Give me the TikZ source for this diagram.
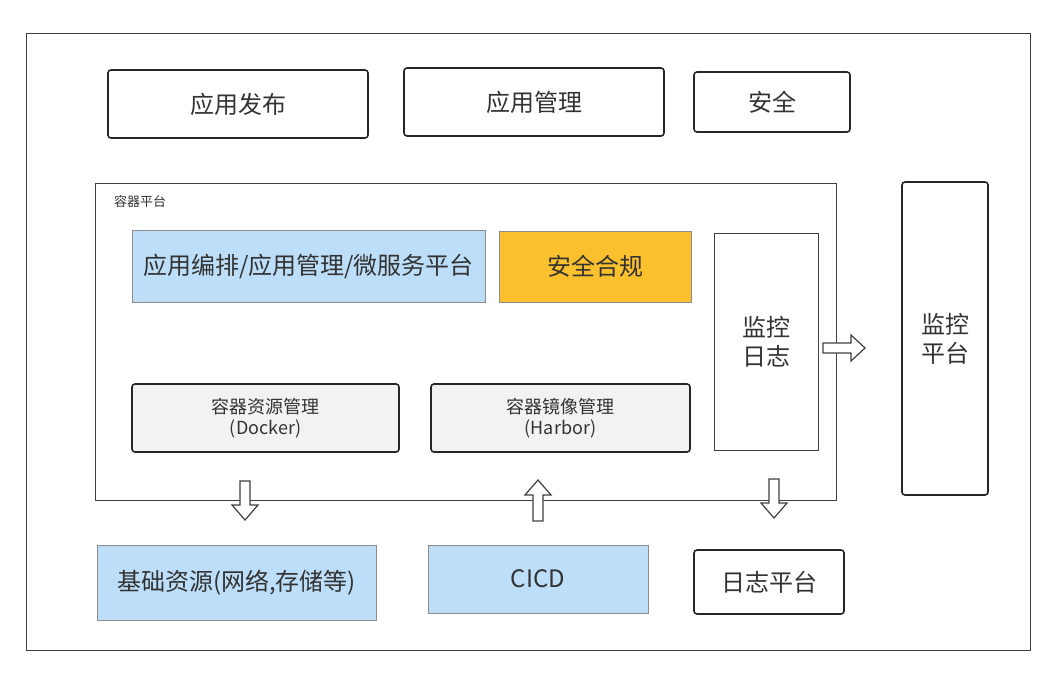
\documentclass[tikz,border=0pt]{standalone}
\usepackage{fontspec}
\setmainfont{Noto Sans CJK SC}
\definecolor{lblue}{RGB}{189,222,248}
\definecolor{amber}{RGB}{251,192,45}
\begin{document}
\begin{tikzpicture}[x=1pt,y=-1pt,
  txt/.style={text=black!80},
  rbox/.style={draw=black!85,line width=1.6pt,rounded corners=3pt,fill=white,txt,font=\fontsize{24}{29}\selectfont},
  bluebox/.style={draw=black!45,line width=0.8pt,fill=lblue,txt,font=\fontsize{24}{28}\selectfont},
  graybox/.style={draw=black!85,line width=1.6pt,rounded corners=3pt,fill=black!5,txt,font=\fontsize{18}{21}\selectfont,align=center},
  barrow/.style={draw=black!75,line width=1.2pt,fill=white,line join=miter}
]
\useasboundingbox (0,0) rectangle (1054,678);
\fill[white] (0,0) rectangle (1054,678);
% outer frame
\draw[black!75,line width=0.8pt] (26,33) rectangle (1030,650);
% top row
\node[rbox,minimum width=260,minimum height=68] (fabu) at (238,104) {应用发布};
\node[rbox,minimum width=260,minimum height=68] (guanli) at (534,102) {应用管理};
\node[rbox,minimum width=156,minimum height=60] (anquan) at (772,102) {安全};
% container platform
\draw[black!75,line width=0.8pt] (95,183) rectangle (836,500);
\node[txt,font=\fontsize{13}{15}\selectfont,anchor=west,inner sep=0pt] (rqpt) at (114,202) {容器平台};
\node[bluebox,minimum width=353,minimum height=72] (bianpai) at (308.5,266) {应用编排/应用管理/微服务平台};
\node[draw=black!45,line width=0.8pt,fill=amber,txt,font=\fontsize{24}{28}\selectfont,minimum width=192,minimum height=71] (hegui) at (595,266.5) {安全合规};
\node[draw=black!75,line width=0.8pt,fill=white,txt,font=\fontsize{24}{29}\selectfont,align=center,minimum width=104,minimum height=217] (jkrz) at (766,341.5) {监控\\日志};
\node[graybox,minimum width=267,minimum height=68] (docker) at (265.5,418) {容器资源管理\\(Docker)};
\node[graybox,minimum width=259,minimum height=68] (harbor) at (560.5,418) {容器镜像管理\\(Harbor)};
% monitor platform
\node[rbox,minimum width=86,minimum height=313,align=center] (jkpt) at (945,338.5) {监控\\平台};
% bottom row
\node[bluebox,minimum width=279,minimum height=75] (jichu) at (236.5,582.5) {基础资源(网络,存储等)};
\node[bluebox,minimum width=220,minimum height=68] (cicd) at (538,579) {CICD};
\node[rbox,minimum width=150,minimum height=64] (rzpt) at (769,582) {日志平台};
% block arrows
\coordinate (ra) at (823,338);
\draw[barrow] ([yshift=-5]ra) -- ++(28,0) -- ++(0,-8) -- ++(14,13) -- ++(-14,13) -- ++(0,-8) -- ++(-28,0) -- cycle;
\coordinate (da1) at (245,481);
\draw[barrow] ([xshift=-5]da1) -- ++(0,24) -- ++(-8,0) -- ++(13,15) -- ++(13,-15) -- ++(-8,0) -- ++(0,-24) -- cycle;
\coordinate (ua) at (538,521);
\draw[barrow] ([xshift=-5]ua) -- ++(0,-26) -- ++(-8,0) -- ++(13,-15) -- ++(13,15) -- ++(-8,0) -- ++(0,26) -- cycle;
\coordinate (da2) at (774,479);
\draw[barrow] ([xshift=-5]da2) -- ++(0,24) -- ++(-8,0) -- ++(13,15) -- ++(13,-15) -- ++(-8,0) -- ++(0,-24) -- cycle;
\end{tikzpicture}
\end{document}
